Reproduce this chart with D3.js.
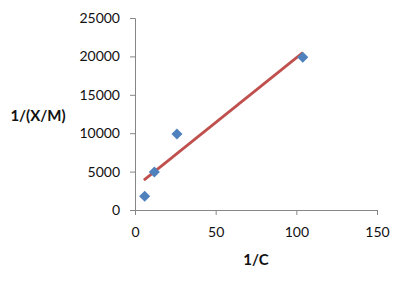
<!DOCTYPE html>
<html><head><meta charset="utf-8">
<script src="https://cdn.jsdelivr.net/npm/d3@7"></script>
<style>body{margin:0;background:#fff}svg{display:block}text{font-family:Lato,"Open Sans",sans-serif}</style>
</head><body>
<script>
const xValues = [6, 12, 26, 104];
const yValues = [1800, 4950, 9900, 19900];
const trendX = [5.5, 104];
const trendY = [3900, 20500];
const xTicks = [0, 50, 100, 150];
const yTicks = [0, 5000, 10000, 15000, 20000, 25000];
const xTitle = "1/C";
const yTitle = "1/(X/M)";

const W = 400, H = 281;
const svg = d3.select("body").append("svg").attr("width", W).attr("height", H);
const x = d3.scaleLinear().domain([0, 150]).range([135, 377]);
const y = d3.scaleLinear().domain([0, 25000]).range([210, 18]);
const axisColor = "#868686";

const gx = svg.append("g").attr("transform", `translate(0,${y(0)})`)
  .call(d3.axisBottom(x).tickValues(xTicks).tickSize(5).tickPadding(12).tickFormat(d3.format("d")));
const gy = svg.append("g").attr("transform", `translate(${x(0)},0)`)
  .call(d3.axisLeft(y).tickValues(yTicks).tickSize(5).tickPadding(10).tickFormat(d3.format("d")));
[gx, gy].forEach(g => {
  g.select(".domain").attr("stroke", axisColor).attr("stroke-width", 1);
  g.selectAll(".tick line").attr("stroke", axisColor);
  g.selectAll(".tick text").attr("font-size", 14).attr("fill", "#111")
   .attr("font-family", "Lato, sans-serif");
});

svg.append("line")
  .attr("x1", x(trendX[0])).attr("y1", y(trendY[0]))
  .attr("x2", x(trendX[1])).attr("y2", y(trendY[1]))
  .attr("stroke", "#C0504D").attr("stroke-width", 2.8);

svg.append("g").selectAll("path").data(xValues.map((v, i) => [v, yValues[i]]))
  .join("path")
  .attr("d", d3.symbol().type(d3.symbolDiamond2).size(78))
  .attr("transform", d => `translate(${x(d[0])},${y(d[1])})`)
  .attr("fill", "#4F81BD");

svg.append("text").attr("x", 256).attr("y", 265).attr("text-anchor", "middle")
  .attr("font-weight", "bold").attr("font-size", 15).attr("fill", "#111").text(xTitle);
svg.append("text").attr("x", 38).attr("y", 121).attr("text-anchor", "middle")
  .attr("font-weight", "bold").attr("font-size", 15).attr("fill", "#111").text(yTitle);
</script>
</body></html>
